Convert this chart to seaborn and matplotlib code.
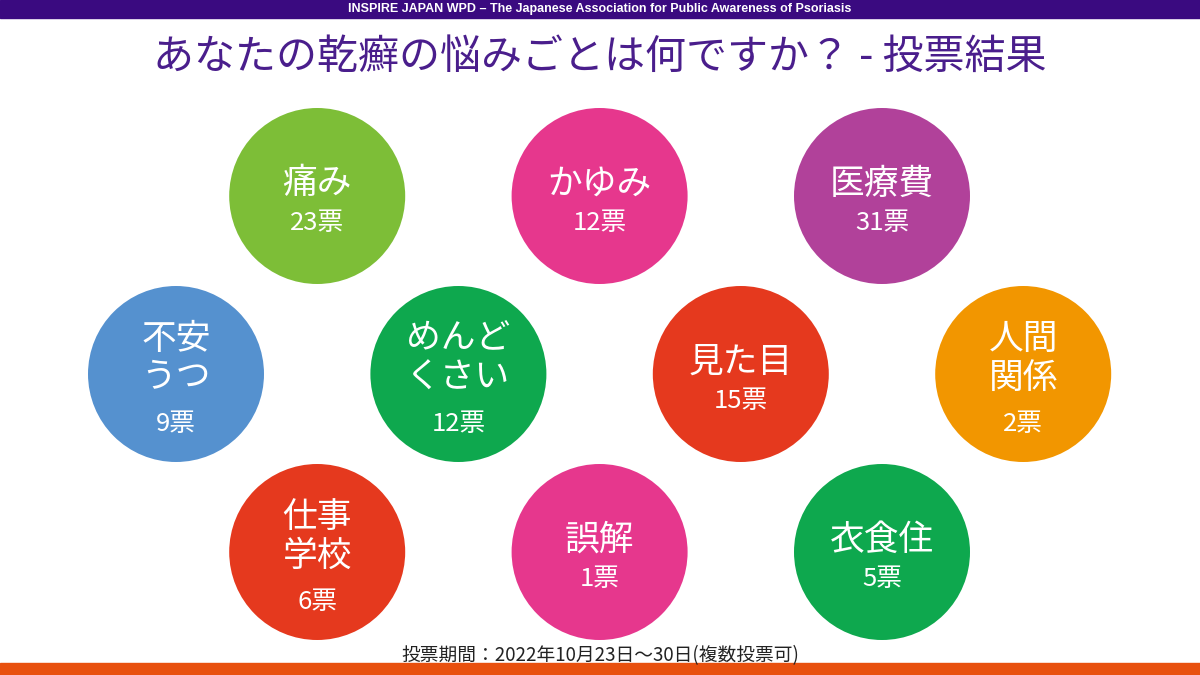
import matplotlib
matplotlib.use("Agg")
import matplotlib.pyplot as plt
import seaborn as sns
import pandas as pd

# ---- data ----
categories = ["痛み", "かゆみ", "医療費", "不安\nうつ", "めんど\nくさい", "見た目",
              "人間\n関係", "仕事\n学校", "誤解", "衣食住"]
votes = [23, 12, 31, 9, 12, 15, 2, 6, 1, 5]
colors = ["#7DBE37", "#E6378D", "#B1419A", "#5591CF", "#0EA84E", "#E5391E",
          "#F29600", "#E5391E", "#E6378D", "#0EA84E"]
header_text = "INSPIRE JAPAN WPD – The Japanese Association for Public Awareness of Psoriasis"
title_text = "あなたの乾癬の悩みごとは何ですか？ - 投票結果"
footer_text = "投票期間：2022年10月23日～30日(複数投票可)"

# ---- layout (honeycomb grid) ----
grid_row = [0, 0, 0, 1, 1, 1, 1, 2, 2, 2]
grid_slot = [1, 3, 5, 0, 2, 4, 6, 1, 3, 5]
X0, DX, Y0, DY, R = 176, 141.2, 196, 178, 88

sns.set_theme(style="white")
plt.rcParams["font.family"] = ["Noto Sans CJK JP", "DejaVu Sans"]

df = pd.DataFrame({
    "category": categories,
    "votes": votes,
    "x": [X0 + DX * s for s in grid_slot],
    "y": [Y0 + DY * r for r in grid_row],
})
palette = dict(zip(categories, colors))

fig = plt.figure(figsize=(12, 6.75), dpi=100)
ax = fig.add_axes([0, 0, 1, 1])
ax.set_xlim(0, 1200)
ax.set_ylim(675, 0)
ax.axis("off")

diam_pt = 2 * R * 72 / 100
sns.scatterplot(data=df, x="x", y="y", hue="category", palette=palette,
                s=diam_pt ** 2, linewidth=0, legend=False, ax=ax, zorder=2)

for _, row in df.iterrows():
    lines = row["category"].split("\n")
    if len(lines) == 1:
        ax.text(row["x"], row["y"] - 12, lines[0], color="white", fontsize=25,
                ha="center", va="center", zorder=3)
        ax.text(row["x"], row["y"] + 27, f"{row['votes']}票", color="white",
                fontsize=18.5, ha="center", va="center", zorder=3)
    else:
        ax.text(row["x"], row["y"] - 35, lines[0], color="white", fontsize=25,
                ha="center", va="center", zorder=3)
        ax.text(row["x"], row["y"] + 4, lines[1], color="white", fontsize=25,
                ha="center", va="center", zorder=3)
        ax.text(row["x"], row["y"] + 50, f"{row['votes']}票", color="white",
                fontsize=18.5, ha="center", va="center", zorder=3)

# header bar
ax.axhspan(0, 18, color="#3A0A80", zorder=1)
ax.text(600, 9, header_text, color="white", fontsize=9, fontweight="bold",
        family=["Liberation Sans", "DejaVu Sans"], ha="center", va="center", zorder=3)

# title
ax.text(600, 57, title_text, color="#4A1E8C", fontsize=29.5, ha="center", va="center", zorder=3)

# footer
ax.text(600, 656, footer_text, color="#222222", fontsize=13.5, ha="center", va="center", zorder=3)
ax.axhspan(663, 675, color="#E8500E", zorder=1)

fig.savefig("out.png", dpi=100)
